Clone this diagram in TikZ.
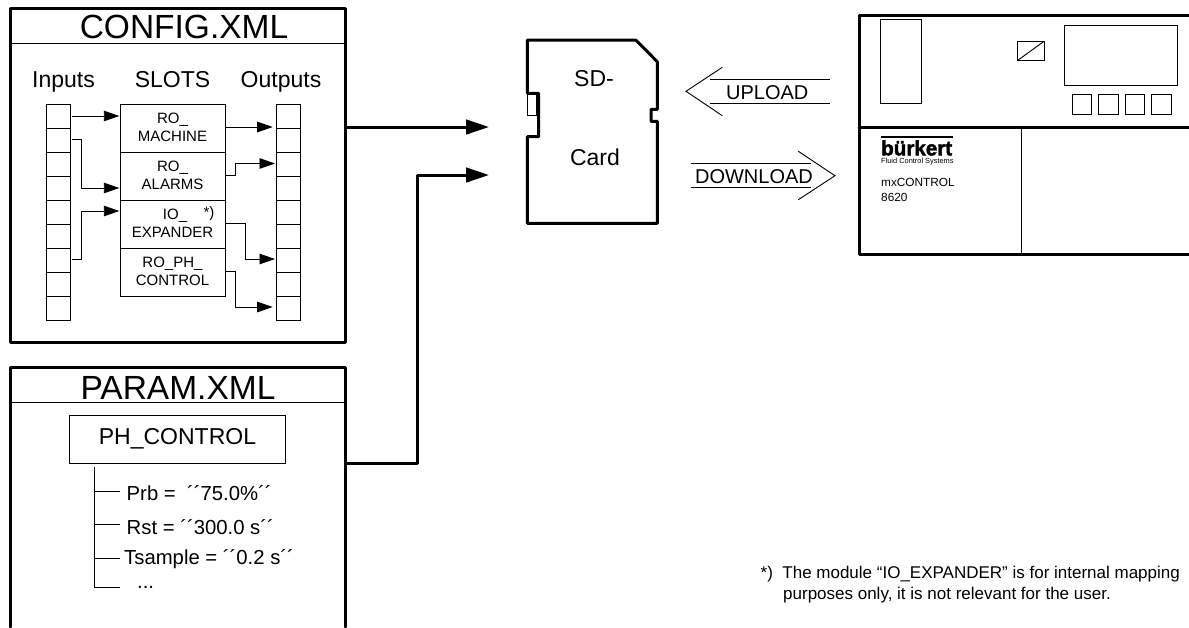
\documentclass[tikz,border=0pt]{standalone}
\usepackage{fontspec}
\setmainfont{Liberation Sans}
\newfontfamily\brandfont[UprightFont=* Bold,FakeBold=2]{Liberation Sans}
\usetikzlibrary{arrows.meta,positioning,calc,fit}

\newcommand{\fs}[1]{\fontsize{#1}{#1}\selectfont}

\begin{document}
\begin{tikzpicture}[
    x=1pt,
    y=-1pt,
    thinline/.style={line width=0.9pt},
    heavy/.style={line width=3pt, line join=round, line cap=round},
    cell/.style={draw, thinline, minimum width=24pt, minimum height=24pt, inner sep=0pt, outer sep=0pt},
    slot/.style={draw, thinline, align=center, minimum width=105pt, minimum height=48pt, inner sep=0pt, outer sep=0pt, font=\fs{15}},
    key/.style={draw, thinline, minimum width=19.4pt, minimum height=19.4pt, inner sep=0pt, outer sep=0pt},
    heading/.style={inner sep=0pt, anchor=base, font=\fs{23}},
    title/.style={inner sep=0pt, font=\fs{33.5}},
    param/.style={inner sep=0pt, anchor=west, font=\fs{20.3}},
    small/.style={inner sep=0pt, anchor=west, font=\fs{11.8}},
    wire/.style={thinline, -{Triangle[length=15.5pt,width=10.5pt]}},
    feed/.style={line width=3pt, line join=round, -{Triangle[length=23pt,width=14.5pt]}},
    >=Latex
]
\useasboundingbox (0,0) rectangle (1189,627);

% config file
\draw[heavy] (10,8) rectangle (345,342);
\draw[thinline] (10,43.5) -- (345,43.5);
\node[title] (config) at (184,27) {CONFIG.XML};

\node[heading] (inputs) at (63.5,87) {Inputs};
\node[heading] (slots) at (172.5,87) {SLOTS};
\node[heading] (outputs) at (281,87) {Outputs};

\foreach \i in {1,...,9} {
    \node[cell] (in\i) at (58,92+24*\i) {};
    \node[cell] (out\i) at (288,92+24*\i) {};
}

\node[slot] (machine) at (172.5,128) {\raisebox{1pt}{RO\_}\\[3pt]\raisebox{1pt}{MACHINE}};
\node[slot, below=0pt of machine] (alarms) {\raisebox{1pt}{RO\_}\\[3pt]\raisebox{1pt}{ALARMS}};
\node[slot, below=0pt of alarms] (expander) {\raisebox{1pt}{\hspace*{5pt}IO\_}\\[3pt]\raisebox{1pt}{EXPANDER}};
\node[slot, below=0pt of expander] (control) {\raisebox{1pt}{RO\_PH\_}\\[3pt]\raisebox{1pt}{CONTROL}};
\node[inner sep=0pt, font=\fs{15}] (star) at (209,213.5) {*)};

\draw[wire] ($(in1.east |- 0,116)+(2,0)$) -- (119.3,116);
\draw[wire] ($(in2.east |- 0,139.5)+(2,0)$) -| (81.5,188) -- (119.3,188);
\draw[wire] ($(in7.east |- 0,259)+(2,0)$) -| (81.5,211) -- (119.3,211);
\draw[wire] (machine.east |- 0,127) -- (272.7,127);
\draw[wire] (alarms.east |- 0,175) -| (235,163.5) -- (275,163.5);
\draw[wire] (expander.east |- 0,223.5) -| (245,259) -- (275,259);
\draw[wire] (control.east |- 0,271.5) -| (235,307) -- (272.7,307);

% param file
\draw[heavy] (10,627) -- (10,367) -- (345,367) -- (345,627);
\draw[thinline] (10,402.5) -- (345,402.5);
\node[title] (paramfile) at (178,388) {PARAM.XML};

\node[draw, thinline, minimum width=216pt, minimum height=48pt, inner sep=0pt, font=\fs{23}] (phcontrol) at (177.5,439) {PH\_CONTROL};

\node[param] (prb) at (126.5,493) {Prb =\ \ ´´75.0\%´´};
\node[param] (rst) at (126.5,527) {Rst = ´´300.0 s´´};
\node[param] (tsample) at (124,559) {Tsample = ´´0.2 s´´};
\node[param] (dots) at (137,587) {...};

\draw[thinline] (94,467) -- (94,587) -- (120,587);
\draw[thinline] (94,491) -- (120,491);
\draw[thinline] (94,524.7) -- (120,524.7);
\draw[thinline] (94,558) -- (120,558);

% sd card
\draw[heavy] (527.3,40) -- (635.7,40) -- (657.3,61.7) -- (657.3,109.3) -- (651,109.3) -- (651,121.3) -- (657.3,121.3)
    -- (657.3,223.3) -- (527.3,223.3) -- (527.3,136.7) -- (538.7,136.7) -- (538.7,93.3) -- (527.3,93.3) -- cycle;
\draw[thinline] (527.3,94) rectangle (536,115.3);
\node[inner sep=0pt, font=\fs{23}] (sd) at (594,79) {SD-};
\node[inner sep=0pt, font=\fs{23}] (card) at (595,157.7) {Card};
\coordinate (cardin1) at (489,127);
\coordinate (cardin2) at (489,175);

\draw[feed] (345,127) -- (cardin1);
\draw[feed] (345,463) -- (417,463) -- (417,175) -- (cardin2);

% upload and download
\node[inner sep=0pt, font=\fs{20}] (upload) at (767.3,92.5) {UPLOAD};
\node[inner sep=0pt, font=\fs{20}] (download) at (754,176.5) {DOWNLOAD};
\draw[thinline] (722.3,67.3) -- (686,91.3) -- (722.3,115.7);
\draw[thinline] (710,79.7) -- (830,79.7);
\draw[thinline] (710,103.3) -- (830,103.3);
\draw[thinline] (798.3,151.3) -- (835,175.7) -- (798.3,199.7);
\draw[thinline] (690.7,163.3) -- (810.7,163.3);
\draw[thinline] (690.7,187.7) -- (810.7,187.7);

% device
\draw[heavy] (1189,15) -- (859,15) -- (859,254.3) -- (1189,254.3);
\draw[heavy] (859,127.3) -- (1189,127.3);
\draw[thinline] (1021.7,127.3) -- (1021.7,254.3);
\draw[thinline] (880,19.3) rectangle (921.3,103.7);
\draw[thinline] (1017.3,41.3) rectangle (1044,60.7);
\draw[thinline] (1017.3,60.7) -- (1044,41.3);
\draw[thinline] (1064.7,25.7) rectangle (1177.7,85.7);
\foreach \x [count=\k] in {1082,1108.4,1134.7,1161.4} {
    \node[key] (key\k) at (\x,104.3) {};
}

\fill (881,136) rectangle (953,137.6);
\node[small, font=\brandfont\fs{20.6}] (brand) at (881,148) {bürkert};
\node[small, font=\fs{7.4}] (tagline) at (881,162) {Fluid Control Systems};
\node[small] (product) at (881,182) {mxCONTROL};
\node[small] (number) at (881,197) {8620};

% footnote
\node[inner sep=0pt, anchor=west, font=\fs{17}] (note1) at (760.5,574.3) {*)\ \ The module “IO\_EXPANDER” is for internal mapping};
\node[inner sep=0pt, anchor=west, font=\fs{17}] (note2) at (783,595) {purposes only, it is not relevant for the user.};

\end{tikzpicture}
\end{document}
